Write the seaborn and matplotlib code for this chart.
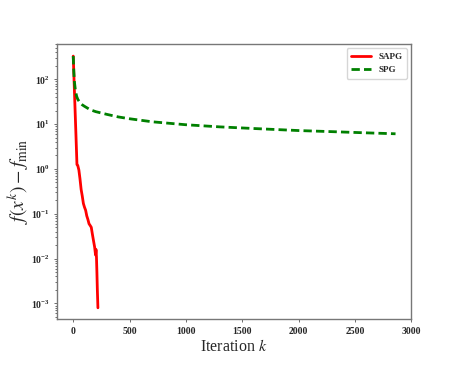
import matplotlib
matplotlib.use('Agg')
import matplotlib.pyplot as plt
import seaborn as sns
import pandas as pd

# SAPG convergence
sapg_iter = [0, 8, 16, 24, 33, 40, 50, 60, 70, 80, 90, 100, 110, 120, 130,
             140, 150, 160, 170, 180, 190, 198, 202, 206, 210, 214, 219]
sapg_gap = [330, 85, 22, 5.8, 1.25, 1.2, 0.95, 0.6, 0.35, 0.25, 0.17, 0.14,
            0.12, 0.09, 0.075, 0.06, 0.055, 0.05, 0.035, 0.025, 0.018, 0.012, 0.016,
            0.011, 0.005, 0.002, 0.0008]

# SPG convergence
spg_iter = [0, 5, 10, 20, 30, 40, 60, 80, 100, 150, 200, 300, 400, 500, 700, 1000,
            1300, 1600, 2000, 2300, 2600, 2860]
spg_gap = [330, 150, 90, 55, 42, 36, 30, 27, 25, 21, 19, 16.5, 14.5, 13.2, 11.3, 9.7,
           8.7, 8.0, 7.2, 6.8, 6.4, 6.1]

df = pd.concat([
    pd.DataFrame({'iter': sapg_iter, 'gap': sapg_gap, 'method': 'SAPG'}),
    pd.DataFrame({'iter': spg_iter, 'gap': spg_gap, 'method': 'SPG'}),
])

sns.set_style('white')
plt.rcParams['font.family'] = ['Liberation Serif', 'DejaVu Serif']
plt.rcParams['mathtext.fontset'] = 'stix'

fig, ax = plt.subplots(figsize=(4.57, 3.66), dpi=100)
sns.lineplot(data=df, x='iter', y='gap', hue='method', style='method',
             palette={'SAPG': 'red', 'SPG': 'green'},
             dashes={'SAPG': '', 'SPG': (3, 1.5)}, linewidth=2, ax=ax)
ax.set_yscale('log')
ax.set_xlim(-143, 3000)
ax.set_ylim(10**-3.35, 10**2.79)
ax.set_xticks([0, 500, 1000, 1500, 2000, 2500, 3000])

ax.set_xlabel('Iteration $k$', fontsize=11.5, labelpad=2)
ax.set_ylabel(r'$f(x^k) - f_{\min}$', fontsize=14, labelpad=0)
for lab in ax.get_xticklabels() + ax.get_yticklabels():
    lab.set_fontweight('bold')
    lab.set_fontsize(7)
ax.tick_params(which='both', left=True, bottom=True, length=2, width=0.6, color='#555555')
ax.tick_params(which='minor', length=1.5)
for s in ax.spines.values():
    s.set_color('#777777')
    s.set_linewidth(1)

ax.legend(title=None, loc='upper right', prop={'weight': 'bold', 'size': 6.5},
          handlelength=2.2, borderpad=0.5, labelspacing=0.5)

fig.subplots_adjust(left=0.125, right=0.9, top=0.88, bottom=0.128)
fig.savefig('out.png', dpi=100)
